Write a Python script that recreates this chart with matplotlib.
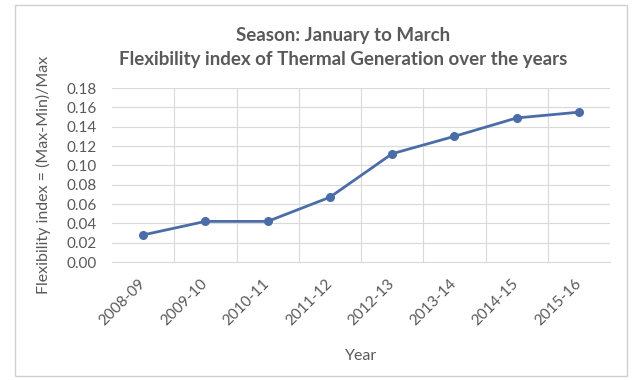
import matplotlib.pyplot as plt
from matplotlib.patches import Rectangle

# flexibility index per season (January to March)
years = ['2008-09', '2009-10', '2010-11', '2011-12',
         '2012-13', '2013-14', '2014-15', '2015-16']
flex_index = [0.028, 0.042, 0.042, 0.067, 0.112, 0.130, 0.149, 0.155]
y_ticks = [0.00, 0.02, 0.04, 0.06, 0.08, 0.10, 0.12, 0.14, 0.16, 0.18]

plt.rcParams['font.family'] = ['Lato', 'DejaVu Sans']
text_col = '#595959'
grid_col = '#d9d9d9'
line_col = '#4a6da8'

fig = plt.figure(figsize=(6.37, 3.80), dpi=100)
fig.patch.set_facecolor('white')

# chart frame
fig.patches.append(Rectangle((15/637, 4/380), 612/637, 371/380,
                             transform=fig.transFigure, fill=False,
                             edgecolor='#d0d0d0', linewidth=1.0))

ax = fig.add_axes([112/637, 1 - 262/380, 498/637, 174/380])

x = list(range(len(years)))
ax.plot(x, flex_index, '-o', color=line_col, linewidth=2.0,
        markersize=5.5, markerfacecolor=line_col, markeredgecolor=line_col)

ax.set_xlim(-0.5, len(years) - 0.5)
ax.set_ylim(0, 0.18)
ax.set_yticks(y_ticks)
ax.set_yticklabels(['{:.2f}'.format(v) for v in y_ticks])
ax.set_xticks(x)
ax.set_xticklabels(years, rotation=45, ha='right', va='center',
                   rotation_mode='anchor')

# gridlines between categories
ax.set_xticks([i + 0.5 for i in range(len(years) - 1)], minor=True)
ax.grid(True, axis='y', color=grid_col, linewidth=0.8)
ax.grid(True, axis='x', which='minor', color=grid_col, linewidth=0.8)
ax.set_axisbelow(True)

for s in ['top', 'right', 'left']:
    ax.spines[s].set_visible(False)
ax.spines['bottom'].set_color(grid_col)
ax.tick_params(axis='both', which='both', length=0, colors=text_col, labelsize=11)
ax.tick_params(axis='x', pad=14)
ax.tick_params(axis='y', pad=11)

ax.set_xlabel('Year', fontsize=11.5, color=text_col, labelpad=15)
ax.set_ylabel('Flexibility index = (Max-Min)/Max', fontsize=11.5, color=text_col, labelpad=11)

fig.text(343/637, 1 - 35/380, 'Season: January to March', ha='center', va='center',
         fontsize=13.5, fontweight='bold', color=text_col)
fig.text(343/637, 1 - 59/380, 'Flexibility index of Thermal Generation over the years',
         ha='center', va='center', fontsize=13.5, fontweight='bold', color=text_col)

fig.savefig('out.png', dpi=100)
